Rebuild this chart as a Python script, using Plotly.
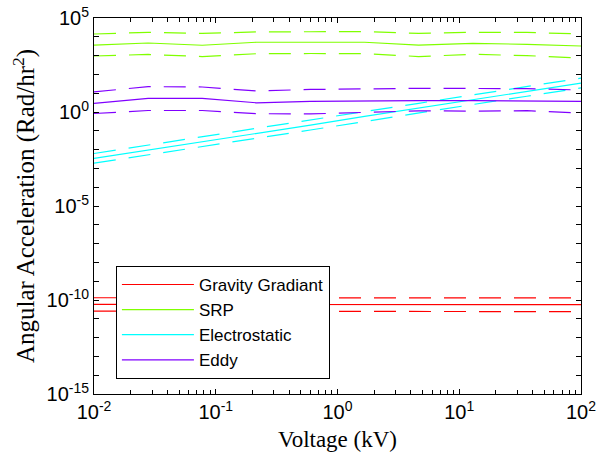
import plotly.graph_objects as go

# ---- data ----
voltage = [0.01, 0.02783, 0.07743, 0.2154, 0.5995, 1.668, 4.642, 12.92, 35.94, 100]

gravity_mid = [5.8e-11, 5.8e-11, 5.8e-11, 5.8e-11, 5.8e-11, 5.8e-11, 5.8e-11, 5.8e-11, 5.8e-11, 5.7e-11]
gravity_hi = [1.32e-10, 1.32e-10, 1.32e-10, 1.32e-10, 1.32e-10, 1.32e-10, 1.32e-10, 1.32e-10, 1.32e-10, 1.30e-10]
gravity_lo = [2.57e-11, 2.57e-11, 2.57e-11, 2.57e-11, 2.57e-11, 2.57e-11, 2.57e-11, 2.57e-11, 2.5e-11, 2.4e-11]

srp_mid = [3630, 4680, 3550, 5130, 5130, 5130, 3630, 4470, 3980, 3240]
srp_hi = [14100, 17400, 15100, 18200, 18600, 19100, 15100, 17400, 17000, 14100]
srp_lo = [955, 1150, 891, 1260, 1290, 1260, 891, 1170, 1000, 741]

elec_mid = [3.4e-3, 9.3e-3, 2.6e-2, 7.4e-2, 0.20, 0.58, 1.6, 4.5, 12.6, 34.7]
elec_hi = [6.2e-3, 1.7e-2, 4.8e-2, 0.135, 0.37, 1.05, 2.9, 8.2, 23, 63]
elec_lo = [1.9e-3, 5.1e-3, 1.4e-2, 4.0e-2, 0.11, 0.32, 0.88, 2.5, 6.9, 19]

eddy_mid = [2.88, 5.37, 5.25, 3.09, 3.63, 3.98, 4.07, 4.07, 3.98, 3.63]
eddy_hi = [11.7, 22.4, 21.4, 13.2, 15.8, 17.4, 18.2, 17.8, 17.4, 14.8]
eddy_lo = [0.83, 1.20, 1.20, 0.81, 0.79, 0.93, 1.15, 1.12, 1.17, 0.89]

series_names = ["Gravity Gradiant", "SRP", "Electrostatic", "Eddy"]
series_colors = ["#FF0000", "#80FF00", "#00FFFF", "#8000FF"]
series_data = [
    (gravity_mid, gravity_hi, gravity_lo),
    (srp_mid, srp_hi, srp_lo),
    (elec_mid, elec_hi, elec_lo),
    (eddy_mid, eddy_hi, eddy_lo),
]

y_tick_vals = [1e-15, 1e-10, 1e-5, 1e0, 1e5]
y_tick_text = ["10<sup>-15</sup>", "10<sup>-10</sup>", "10<sup>-5</sup>", "10<sup>0</sup>", "10<sup>5</sup>"]
y_minor_vals = [10.0 ** e for e in range(-15, 6)]

x_tick_vals = [1e-2, 1e-1, 1e0, 1e1, 1e2]
x_tick_text = ["10<sup>-2</sup>", "10<sup>-1</sup>", "10<sup>0</sup>", "10<sup>1</sup>", "10<sup>2</sup>"]
x_minor_vals = [m * 10.0 ** e for e in range(-2, 2) for m in range(2, 10)]

fig = go.Figure()

for name, color, (mid, hi, lo) in zip(series_names, series_colors, series_data):
    fig.add_trace(go.Scatter(x=voltage, y=mid, mode="lines", name=name,
                             line=dict(color=color, width=1.2), legendgroup=name))
    for arr in (hi, lo):
        fig.add_trace(go.Scatter(x=voltage, y=arr, mode="lines", showlegend=False,
                                 line=dict(color=color, width=1.2, dash="22px,13px"),
                                 legendgroup=name))

axis_common = dict(
    type="log", showline=True, linecolor="black", linewidth=1, mirror="ticks",
    ticks="inside", ticklen=5, tickcolor="black", showgrid=False, zeroline=False,
    automargin=False,
    tickfont=dict(family="Liberation Sans, Arial", size=20, color="black"),
)

fig.update_xaxes(
    **axis_common,
    range=[-2, 2],
    tickmode="array", tickvals=x_tick_vals, ticktext=x_tick_text,
    minor=dict(tickmode="array", tickvals=x_minor_vals, ticks="inside", ticklen=4, tickcolor="black"),
    title=dict(text="Voltage (kV)", font=dict(family="Liberation Serif, Times New Roman", size=23, color="black"), standoff=8),
)
fig.update_yaxes(
    **axis_common,
    range=[-15, 5],
    tickmode="array", tickvals=y_tick_vals, ticktext=y_tick_text,
    minor=dict(tickmode="array", tickvals=y_minor_vals, ticks="inside", ticklen=5, tickcolor="black"),
    title=dict(text="Angular Acceleration (Rad/hr<sup>2</sup>)", font=dict(family="Liberation Serif, Times New Roman", size=25, color="black"), standoff=4),
)

fig.update_layout(
    width=598, height=458,
    margin=dict(l=94, r=17, t=18, b=64),
    paper_bgcolor="white", plot_bgcolor="white",
    showlegend=True,
    legend=dict(
        x=0.045, y=0.04, xanchor="left", yanchor="bottom",
        bgcolor="white", bordercolor="black", borderwidth=1,
        font=dict(family="Liberation Sans, Arial", size=17, color="black"),
        itemwidth=72, tracegroupgap=0,
    ),
)

fig.write_html("out.html")
